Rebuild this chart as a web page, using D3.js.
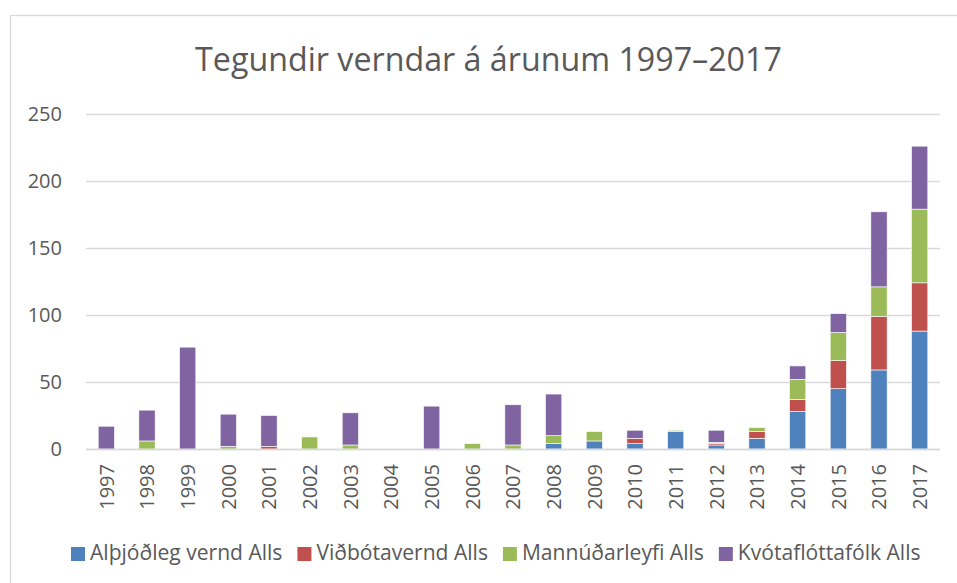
<!DOCTYPE html>
<html><head><meta charset="utf-8">
<script src="https://cdn.jsdelivr.net/npm/d3@7"></script>
<style>
html,body{margin:0;padding:0;background:#fff;}
svg{display:block;}
text{font-family:"Open Sans",sans-serif;fill:#595959;}
</style></head>
<body><svg id="c" width="957" height="583"></svg>
<script>
const years = ["1997","1998","1999","2000","2001","2002","2003","2004","2005","2006","2007","2008","2009","2010","2011","2012","2013","2014","2015","2016","2017"];
const seriesNames = ["Alþjóðleg vernd Alls","Viðbótavernd Alls","Mannúðarleyfi Alls","Kvótaflóttafólk Alls"];
const althjodleg   = [0,0,0,0,0,0,0,0,0,0,0,4,6,4,13,3,8,28,45,59,88];
const vidbotavernd = [0,0,0,0,2,0,0,0,0,0,0,0,0,4,0,1,5,9,21,40,36];
const mannudar     = [0,6,0,2,0,9,3,0,0,4,3,6,7,0,1,1,3,15,21,22,55];
const kvota        = [17,23,76,24,23,0,24,0,32,0,30,31,0,6,0,9,0,10,14,56,47];
const yTicks = [0,50,100,150,200,250];
const colors = ["#4f81bd","#c0504d","#9bbb59","#8064a2"];
const titleText = "Tegundir verndar á árunum 1997–2017";

(function(){
const svg = d3.select("#c");
svg.append("rect").attr("x",10.5).attr("y",15.5).attr("width",970).attr("height",590)
  .attr("fill","#fff").attr("stroke","#d9d9d9").attr("stroke-width",1.3);

const pL = 86, pR = 940, pT = 114, pB = 449;
const x = d3.scaleBand().domain(years).range([pL,pR]).paddingInner(0.6).paddingOuter(0.3);
const y = d3.scaleLinear().domain([0,250]).range([pB,pT]);

svg.append("g").selectAll("line").data(yTicks).join("line")
  .attr("x1",pL).attr("x2",pR)
  .attr("y1",d=>Math.round(y(d))+0.5).attr("y2",d=>Math.round(y(d))+0.5)
  .attr("stroke","#d9d9d9").attr("stroke-width",1.4);

svg.append("g").selectAll("text").data(yTicks).join("text")
  .attr("x",62).attr("y",d=>y(d)).attr("dy","0.36em")
  .attr("text-anchor","end").style("font-size","20px").text(d=>d);

const table = years.map((yr,i)=>({year:yr, s0:althjodleg[i], s1:vidbotavernd[i], s2:mannudar[i], s3:kvota[i]}));
const stack = d3.stack().keys(["s0","s1","s2","s3"])(table);
svg.append("g").selectAll("g").data(stack).join("g")
  .attr("fill",(d,i)=>colors[i])
  .selectAll("rect").data(d=>d.filter(p=>p[1]-p[0]>0)).join("rect")
  .attr("x",d=>x(d.data.year)).attr("width",x.bandwidth())
  .attr("y",d=>y(d[1])).attr("height",d=>y(d[0])-y(d[1]))
  .attr("stroke","#ffffff").attr("stroke-width",0.6);

svg.append("line").attr("x1",pL).attr("x2",pR).attr("y1",pB+0.5).attr("y2",pB+0.5)
  .attr("stroke","#d9d9d9").attr("stroke-width",1.4);

svg.append("g").selectAll("text").data(years).join("text")
  .attr("transform",d=>`translate(${x(d)+x.bandwidth()/2},464) rotate(-90)`)
  .attr("text-anchor","end").attr("dy","0.36em").style("font-size","20px").text(d=>d);

const title = svg.append("text").attr("x",488.5).attr("y",71).attr("text-anchor","middle")
  .style("font-size","30px").text(titleText);
const tw = title.node().getComputedTextLength();
title.style("font-size", (30*587/tw)+"px");

const lg = svg.append("g");
const items = lg.selectAll("g").data(seriesNames).join("g");
items.append("rect").attr("width",14).attr("height",14).attr("y",-14).attr("fill",(d,i)=>colors[i]);
const lt = items.append("text").attr("x",19).attr("y",-1).style("font-size","20px").text(d=>d);
let total = 0; lt.each(function(){ total += this.getComputedTextLength(); });
const fs = 20*729/total;
lt.style("font-size",fs+"px");
let cx = 71;
items.each(function(){
  const w = d3.select(this).select("text").node().getComputedTextLength();
  d3.select(this).attr("transform",`translate(${cx},561)`);
  cx += 19 + w + 15;
});
})();
</script></body></html>
